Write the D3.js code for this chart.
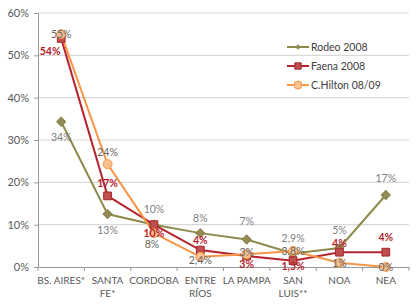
<!DOCTYPE html>
<html>
<head>
<meta charset="utf-8">
<script src="https://cdn.jsdelivr.net/npm/d3@7"></script>
<style>
  body { margin: 0; background: #fff; }
  svg { font-family: Lato, "Open Sans", sans-serif; }
</style>
</head>
<body>
<div id="chart"></div>
<script>
const categories = ["BS. AIRES*", "SANTA FE*", "CORDOBA", "ENTRE RÍOS", "LA PAMPA", "SAN LUIS**", "NOA", "NEA"];
const rodeo = [34.3, 12.5, 10, 8, 6.5, 3.2, 4.5, 17];
const faena = [54, 16.8, 10, 4, 2.6, 1.5, 3.5, 3.5];
const hilton = [55, 24.3, 8, 2.4, 3, 3.8, 1, 0];
const rodeoLabels = ["34%", "13%", "10%", "8%", "7%", "2,9%", "5%", "17%"];
const faenaLabels = ["54%", "17%", "10%", "4%", "3%", "1,5%", "4%", "4%"];
const hiltonLabels = ["55%", "24%", "8%", "2,4%", "3%", "3,8%", "1%", "0%"];
const yTicks = [0, 10, 20, 30, 40, 50, 60];
const seriesNames = ["Rodeo 2008", "Faena 2008", "C.Hilton 08/09"];

const width = 420, height = 307;
const margin = {top: 13, right: 11, bottom: 40, left: 38};

const svg = d3.select("#chart").append("svg")
  .attr("width", width)
  .attr("height", height);

const x = d3.scaleBand()
  .domain(categories)
  .range([margin.left, width - margin.right]);

const y = d3.scaleLinear()
  .domain([0, 60])
  .range([height - margin.bottom, margin.top]);

const cx = d => x(d) + x.bandwidth() / 2;

// grid
svg.append("g")
  .selectAll("line")
  .data(yTicks.filter(t => t > 0))
  .join("line")
  .attr("x1", margin.left)
  .attr("x2", width - margin.right)
  .attr("y1", d => y(d))
  .attr("y2", d => y(d))
  .attr("stroke", "#d9d9d9")
  .attr("stroke-width", 1.2);

// y axis
const yAxis = d3.axisLeft(y)
  .tickValues(yTicks)
  .tickFormat(d => d + "%")
  .tickSize(4)
  .tickPadding(5);

svg.append("g")
  .attr("transform", `translate(${margin.left},0)`)
  .call(yAxis)
  .call(g => g.select(".domain").attr("stroke", "#999"))
  .call(g => g.selectAll(".tick line").attr("stroke", "#999"))
  .call(g => g.selectAll("text").attr("fill", "#595959").style("font-size", "11px").style("font-family", "Lato, sans-serif"));

// x axis
const xAxis = d3.axisBottom(x).tickSize(0).tickFormat("");
const xg = svg.append("g")
  .attr("transform", `translate(0,${y(0)})`)
  .call(xAxis)
  .call(g => g.select(".domain").attr("stroke", "#999"));

xg.selectAll(".sep")
  .data(d3.range(categories.length + 1))
  .join("line")
  .attr("x1", i => margin.left + i * x.step())
  .attr("x2", i => margin.left + i * x.step())
  .attr("y1", 0)
  .attr("y2", 4)
  .attr("stroke", "#999");

// x labels
const xLabelLines = {
  "BS. AIRES*": ["BS. AIRES*"],
  "SANTA FE*": ["SANTA", "FE*"],
  "CORDOBA": ["CORDOBA"],
  "ENTRE RÍOS": ["ENTRE", "RÍOS"],
  "LA PAMPA": ["LA PAMPA"],
  "SAN LUIS**": ["SAN", "LUIS**"],
  "NOA": ["NOA"],
  "NEA": ["NEA"]
};

svg.append("g")
  .selectAll("text")
  .data(categories)
  .join("text")
  .attr("x", d => cx(d))
  .attr("y", y(0) + 17)
  .attr("text-anchor", "middle")
  .attr("fill", "#595959")
  .style("font-size", "10px")
  .each(function(d) {
    d3.select(this).selectAll("tspan")
      .data(xLabelLines[d])
      .join("tspan")
      .attr("x", cx(d))
      .attr("dy", (t, i) => i === 0 ? 0 : 13)
      .text(t => t);
  });

const line = d3.line()
  .x((d, i) => cx(categories[i]))
  .y(d => y(d));

const colRodeo = "#8c8a4a", colFaena = "#b5232c", colHilton = "#f79646";

// Rodeo
svg.append("path").datum(rodeo)
  .attr("d", line).attr("fill", "none")
  .attr("stroke", colRodeo).attr("stroke-width", 2);

// Faena
svg.append("path").datum(faena)
  .attr("d", line).attr("fill", "none")
  .attr("stroke", colFaena).attr("stroke-width", 2);

// Hilton
svg.append("path").datum(hilton)
  .attr("d", line).attr("fill", "none")
  .attr("stroke", colHilton).attr("stroke-width", 2);

const diamond = d3.symbol().type(d3.symbolSquare).size(40);
const square = d3.symbol().type(d3.symbolSquare).size(60);

svg.append("g").selectAll("path")
  .data(rodeo)
  .join("path")
  .attr("d", diamond)
  .attr("transform", (d, i) => `translate(${cx(categories[i])},${y(d)}) rotate(45)`)
  .attr("fill", "#948a54")
  .attr("stroke", "#86804a");

svg.append("g").selectAll("path")
  .data(faena)
  .join("path")
  .attr("d", square)
  .attr("transform", (d, i) => `translate(${cx(categories[i])},${y(d)})`)
  .attr("fill", "#c0504d")
  .attr("stroke", "#a3262b");

svg.append("g").selectAll("circle")
  .data(hilton)
  .join("circle")
  .attr("cx", (d, i) => cx(categories[i]))
  .attr("cy", d => y(d))
  .attr("r", 4.5)
  .attr("fill", "#fac090")
  .attr("stroke", "#f79646");

// data labels: offsets [dx, dy] from the point
const rodeoOff = [[0, 19], [0, 20], [0, -12], [0, -11], [0, -14], [0, -11], [0, -14], [0, -13]];
const faenaOff = [[-11, 17], [0, -9], [0, 12], [0, -6], [0, 12], [0, 9], [0, -5], [0, -11]];
const hiltonOff = [[0, 4], [0, -8], [-2, 15], [0, 7], [0, 2], [0, 4], [0, 4], [0, 4]];

function labels(vals, texts, offs, color, bold) {
  svg.append("g").selectAll("text")
    .data(vals)
    .join("text")
    .attr("x", (d, i) => cx(categories[i]) + offs[i][0])
    .attr("y", (d, i) => y(d) + offs[i][1])
    .attr("text-anchor", "middle")
    .attr("fill", color)
    .style("font-size", "10.5px")
    .style("font-weight", bold ? "bold" : "normal")
    .text((d, i) => texts[i]);
}

labels(rodeo, rodeoLabels, rodeoOff, "#7f7f7f", false);
labels(hilton, hiltonLabels, hiltonOff, "#666", false);
labels(faena, faenaLabels, faenaOff, "#b5232c", true);

// legend
const legend = svg.append("g").attr("transform", "translate(287,47)");
const legendItems = legend.selectAll("g")
  .data(seriesNames)
  .join("g")
  .attr("transform", (d, i) => `translate(0,${i * 19})`);

legendItems.append("line")
  .attr("x1", 0).attr("x2", 22)
  .attr("stroke", (d, i) => [colRodeo, colFaena, colHilton][i])
  .attr("stroke-width", 2);

legendItems.each(function(d, i) {
  const g = d3.select(this);
  if (i === 0) {
    g.append("path").attr("d", d3.symbol().type(d3.symbolSquare).size(16))
      .attr("transform", "translate(11,0) rotate(45)").attr("fill", "#948a54");
  } else if (i === 1) {
    g.append("path").attr("d", d3.symbol().type(d3.symbolSquare).size(40))
      .attr("transform", "translate(11,0)").attr("fill", "#c0504d").attr("stroke", "#a3262b");
  } else {
    g.append("circle").attr("cx", 11).attr("r", 4)
      .attr("fill", "#fac090").attr("stroke", "#f79646");
  }
});

legendItems.append("text")
  .attr("x", 24)
  .attr("dy", "0.35em")
  .attr("fill", "#404040")
  .style("font-size", "10.5px")
  .text(d => d);
</script>
</body>
</html>
